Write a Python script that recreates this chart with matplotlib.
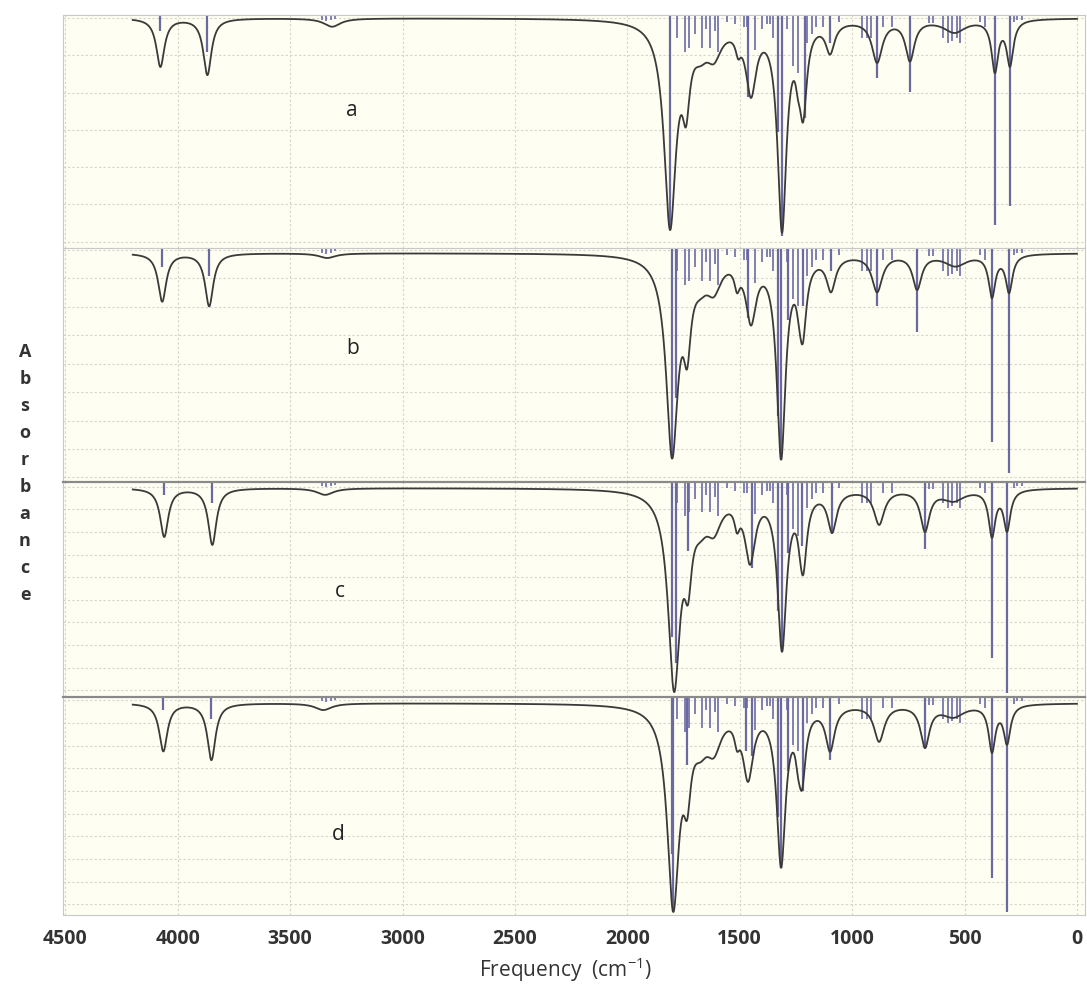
import numpy as np
import matplotlib
matplotlib.use("Agg")
import matplotlib.pyplot as plt

plt.rcParams['font.family'] = ['Open Sans', 'DejaVu Sans']
plt.rcParams['mathtext.fontset'] = 'custom'
plt.rcParams['mathtext.rm'] = 'Open Sans'

# band positions (cm-1) and observed depths (fraction of panel height) per spectrum
band_width = [22, 22, 45, 32, 20, 40, 40, 70, 14, 28, 24, 14, 20, 24, 28, 24, 60, 18, 18]

freq_a = [4077, 3868, 3313, 1810, 1739, 1675, 1615, 1556, 1507, 1450, 1312, 1241, 1218, 1098, 889, 743, 545, 365, 298]
depth_a = [0.223, 0.258, 0.05, 0.923, 0.48, 0.22, 0.21, 0.12, 0.19, 0.356, 0.935, 0.365, 0.46, 0.17, 0.206, 0.2, 0.077, 0.25, 0.223]

freq_b = [4069, 3860, 3335, 1801, 1734, 1675, 1615, 1556, 1512, 1450, 1316, 1236, 1220, 1094, 889, 711, 540, 378, 302]
depth_b = [0.23, 0.25, 0.043, 0.90, 0.517, 0.22, 0.21, 0.116, 0.194, 0.332, 0.905, 0.345, 0.41, 0.19, 0.19, 0.18, 0.08, 0.215, 0.194]

freq_c = [4060, 3846, 3344, 1792, 1730, 1675, 1615, 1556, 1512, 1454, 1312, 1232, 1218, 1089, 880, 676, 550, 378, 311]
depth_c = [0.256, 0.293, 0.06, 0.977, 0.57, 0.28, 0.26, 0.153, 0.24, 0.386, 0.79, 0.363, 0.433, 0.237, 0.2, 0.233, 0.093, 0.26, 0.233]

freq_d = [4064, 3850, 3352, 1796, 1734, 1675, 1615, 1556, 1512, 1463, 1316, 1241, 1223, 1098, 880, 676, 550, 378, 311]
depth_d = [0.25, 0.29, 0.06, 0.986, 0.564, 0.30, 0.28, 0.16, 0.25, 0.39, 0.784, 0.37, 0.427, 0.252, 0.206, 0.234, 0.096, 0.257, 0.22]

baseline = [0.013, 0.022, 0.028, 0.028]

# computed vibrational lines shared by all four spectra
minor_freq = [3360, 3340, 3320, 3300, 1779, 1745, 1725, 1700, 1668, 1650, 1632, 1610, 1596, 1556,
              1520, 1480, 1467, 1432, 1400, 1378, 1365, 1350, 1290, 1263, 1240, 1200, 1180, 1160,
              1129, 1060, 955, 935, 915, 863, 823, 660, 640, 596, 575, 555, 535, 520, 430, 410,
              280, 265, 245]
minor_len = [0.02, 0.025, 0.02, 0.015, 0.10, 0.16, 0.14, 0.08, 0.14, 0.06, 0.14, 0.07, 0.16, 0.03,
             0.04, 0.05, 0.05, 0.15, 0.06, 0.04, 0.04, 0.1, 0.06, 0.22, 0.25, 0.12, 0.08, 0.05,
             0.05, 0.03, 0.1, 0.1, 0.1, 0.05, 0.05, 0.035, 0.035, 0.1, 0.12, 0.11, 0.1, 0.12, 0.03,
             0.05, 0.03, 0.02, 0.02]

# strongest lines of each spectrum
stick_freq_a = [4077, 3868, 1810, 1463, 1330, 1312, 1209, 1098, 889, 743, 365, 298]
stick_len_a = [0.07, 0.16, 0.92, 0.35, 0.5, 0.95, 0.44, 0.12, 0.27, 0.33, 0.9, 0.82]
stick_freq_b = [4069, 3860, 1801, 1783, 1463, 1330, 1316, 1285, 1218, 1094, 889, 711, 378, 302]
stick_len_b = [0.08, 0.12, 0.9, 0.64, 0.3, 0.72, 0.905, 0.31, 0.25, 0.1, 0.25, 0.36, 0.83, 0.96]
stick_freq_c = [4060, 3846, 1801, 1783, 1730, 1445, 1330, 1312, 1285, 1225, 1089, 676, 378, 311]
stick_len_c = [0.06, 0.1, 0.72, 0.84, 0.32, 0.4, 0.6, 0.79, 0.33, 0.3, 0.24, 0.31, 0.82, 0.98]
stick_freq_d = [4064, 3850, 1801, 1796, 1734, 1470, 1445, 1330, 1316, 1285, 1218, 1098, 676, 378, 311]
stick_len_d = [0.06, 0.1, 0.72, 0.986, 0.31, 0.25, 0.27, 0.55, 0.784, 0.34, 0.43, 0.29, 0.24, 0.83, 0.986]

labels = ['a', 'b', 'c', 'd']
xticks = [4500, 4000, 3500, 3000, 2500, 2000, 1500, 1000, 500, 0]


def broadened(nu, centers, depths, widths, base):
    # Lorentzian bands whose summed depth hits the observed value at every band centre
    c = np.asarray(centers, float)
    w = np.asarray(widths, float)
    A = w[None, :]**2 / ((c[:, None] - c[None, :])**2 + w[None, :]**2)
    amp = np.linalg.solve(A, np.asarray(depths) - base)
    prof = w[None, :]**2 / ((nu[:, None] - c[None, :])**2 + w[None, :]**2)
    return base + prof @ amp


fig = plt.figure(figsize=(10.87, 9.85), dpi=100)
# panel extents in figure fractions: left, bottom, width, height
boxes = [(0.058, 0.7482, 0.940, 0.2365),
         (0.058, 0.5107, 0.940, 0.2376),
         (0.058, 0.2924, 0.940, 0.2183),
         (0.058, 0.0711, 0.940, 0.2213)]
grid_start = [0.013, 0.008, 0.023, 0.015]
grid_step = [0.16, 0.1216, 0.105, 0.104]
label_pos = [(3224, 0.41), (3224, 0.43), (3277, 0.51), (3286, 0.63)]

spectra = [(freq_a, depth_a, stick_freq_a, stick_len_a),
           (freq_b, depth_b, stick_freq_b, stick_len_b),
           (freq_c, depth_c, stick_freq_c, stick_len_c),
           (freq_d, depth_d, stick_freq_d, stick_len_d)]

nu = np.linspace(4200, 0, 6000)
for i, (fr, dp, sf, sl) in enumerate(spectra):
    ax = fig.add_axes(boxes[i])
    ax.set_facecolor('#fffef2')
    ax.set_xlim(4510, -35)
    ax.set_ylim(1.0, 0.0)

    ax.vlines(minor_freq, 0, minor_len, color='#8080b2', lw=1.4)
    ax.vlines(sf, 0, sl, color='#6a6aa0', lw=1.6)
    ax.plot(nu, broadened(nu, fr, dp, band_width, baseline[i]), color='#3a3a3a', lw=1.3)

    ax.set_xticks(xticks)
    ax.set_yticks(np.arange(grid_start[i], 1.0, grid_step[i]))
    ax.grid(True, color='#d4d4cc', lw=0.8, ls=(0, (2, 2)))
    ax.tick_params(length=0, labelleft=False)
    if i < 3:
        ax.tick_params(labelbottom=False)
    else:
        ax.tick_params(axis='x', pad=10)
        for t in ax.get_xticklabels():
            t.set_fontsize(14)
            t.set_fontweight('bold')
            t.set_color('#333333')
    for s in ax.spines.values():
        s.set_color('#c8c8c8')
    if i >= 2:
        ax.spines['top'].set_color('#8a8a8a')
        ax.spines['top'].set_linewidth(1.6)

    ax.text(label_pos[i][0], label_pos[i][1], labels[i], fontsize=15, color='#222222',
            ha='center', va='center')

fig.text(0.52, 0.016, r'Frequency  (cm$^{\mathregular{-1}}$)', fontsize=15,
         color='#333333', ha='center', va='center')

# stacked vertical axis title
for k, ch in enumerate('Absorbance'):
    fig.text(0.023, 1 - (352 + 27 * k) / 985, ch, fontsize=13, fontweight='bold',
             color='#333333', ha='center', va='center')

fig.savefig('out.png', dpi=100, facecolor='white')
